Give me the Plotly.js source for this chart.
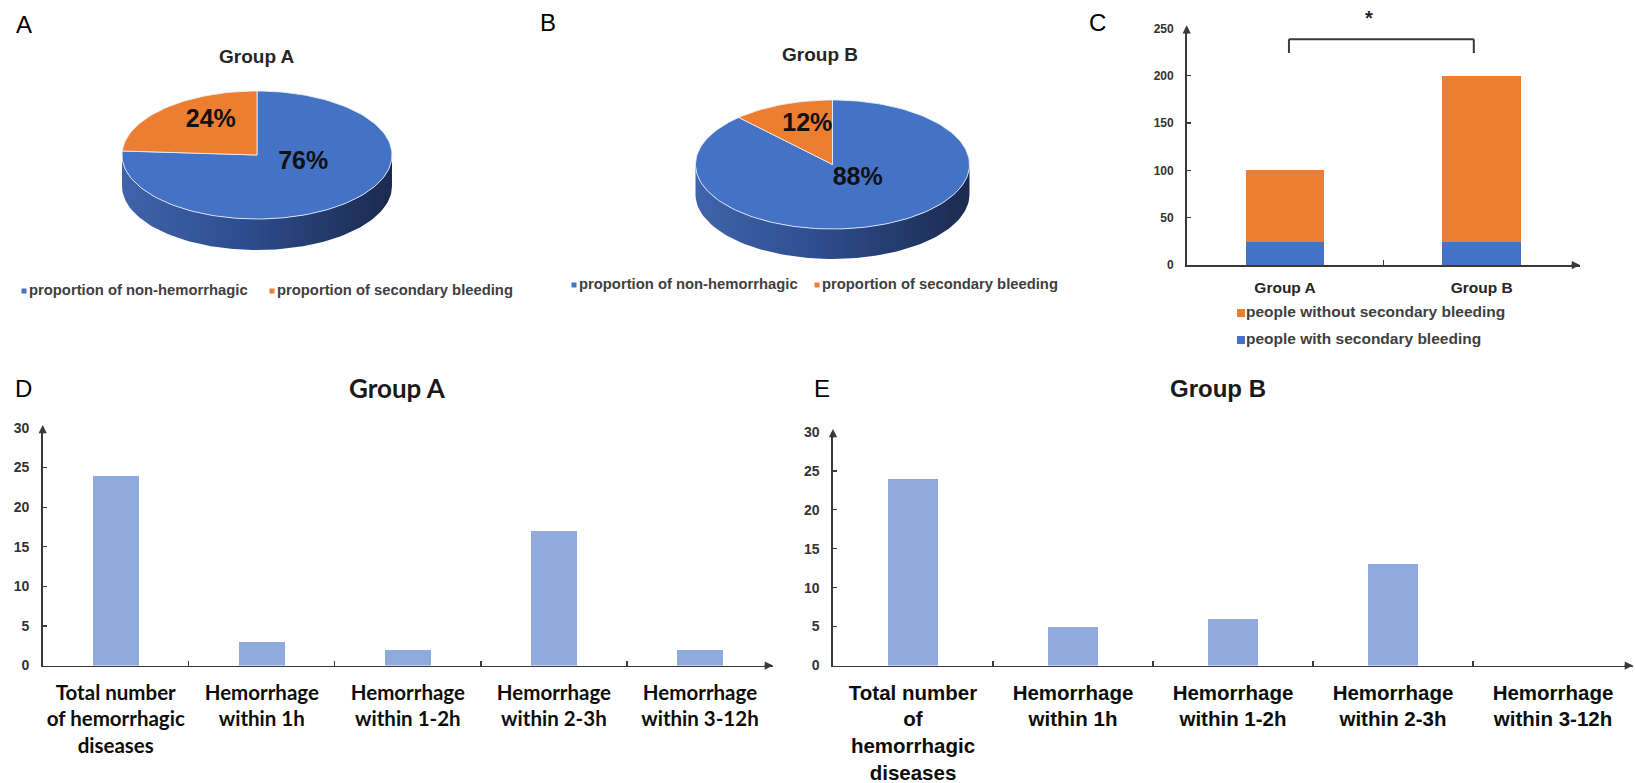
<!DOCTYPE html>
<html><head><meta charset="utf-8">
<script src="https://cdn.plot.ly/plotly-3.0.1.min.js"></script>
<style>html,body{margin:0;padding:0;background:#fff}#chart{width:1635px;height:783px}</style>
</head><body><div id="chart"></div>
<script>
// ---------------- data ----------------
const pieLabels = ['proportion of non-hemorrhagic', 'proportion of secondary bleeding'];
const pieTitles = ['Group A', 'Group B'];
const pieAValues = [76, 24];
const pieBValues = [88, 12];

const groupCategories = ['Group A', 'Group B'];
const seriesNames = ['people without secondary bleeding', 'people with secondary bleeding'];
const withoutBleeding = [76, 176];
const withBleeding = [24, 24];
const yTicksC = [0, 50, 100, 150, 200, 250];
const significanceMark = '*';

const timeTitles = ['Group A', 'Group B'];
const timeCategoriesA = ['Total number<br>of hemorrhagic<br>diseases', 'Hemorrhage<br>within 1h', 'Hemorrhage<br>within 1-2h', 'Hemorrhage<br>within 2-3h', 'Hemorrhage<br>within 3-12h'];
const timeCategoriesB = ['Total number<br>of<br>hemorrhagic<br>diseases', 'Hemorrhage<br>within 1h', 'Hemorrhage<br>within 1-2h', 'Hemorrhage<br>within 2-3h', 'Hemorrhage<br>within 3-12h'];
const groupAHemorrhage = [24, 3, 2, 17, 2];
const groupBHemorrhage = [24, 5, 6, 13, 0];
const yTicksDE = [0, 5, 10, 15, 20, 25, 30];
const panelLetters = ['A', 'B', 'C', 'D', 'E'];

// ---------------- layout helpers ----------------
const W = 1635, H = 783;
const px = x => x / W;
const py = y => 1 - y / H;
const BLUE = '#4472C4', ORANGE = '#ED7D31', LIGHTBLUE = '#8FAADC';
const ARIAL = 'Liberation Sans, Arial, sans-serif';
const CALIBRI = 'Lato, Liberation Sans Narrow, sans-serif';
const AXIS = '#3a3a3a';

const traces = [];
const annotations = [];

// ---------------- 3D-looking pies (A, B) ----------------
const pieGeo = [
  {values: pieAValues, title: pieTitles[0], cx: 257, cy: 155, rx: 135, ry: 64, depth: 31, titleX: 257, titleY: 56, legY: 291, legX: [24, 272]},
  {values: pieBValues, title: pieTitles[1], cx: 832.5, cy: 164.5, rx: 137, ry: 64.5, depth: 30, titleX: 820, titleY: 55, legY: 285, legX: [574, 817]}
];
const sliceColors = [BLUE, ORANGE];

pieGeo.forEach(g => {
  const total = g.values.reduce((a, b) => a + b, 0);
  const N = 90;
  const wx = [], wy = [];
  for (let i = 0; i <= N; i++) { const t = Math.PI + Math.PI * i / N; wx.push(g.cx + g.rx * Math.cos(t)); wy.push(g.cy - g.ry * Math.sin(t)); }
  for (let i = N; i >= 0; i--) { const t = Math.PI + Math.PI * i / N; wx.push(g.cx + g.rx * Math.cos(t)); wy.push(g.cy - g.ry * Math.sin(t) + g.depth); }
  wx.push(wx[0]); wy.push(wy[0]);
  traces.push({type: 'scatter', x: wx, y: wy, mode: 'lines', fill: 'toself',
    line: {width: 0, color: 'rgba(0,0,0,0)'},
    fillgradient: {type: 'horizontal', colorscale: [[0, '#4063ab'], [0.45, '#2e4d8e'], [1, '#1b2a4e']]},
    xaxis: 'x', yaxis: 'y', hoverinfo: 'skip'});
  let ang = 90;
  const lx = [], ly = [], lt = [];
  g.values.forEach((v, k) => {
    const sweep = v / total * 360;
    const a0 = ang, a1 = ang - sweep;
    const xs = [g.cx], ys = [g.cy];
    const n = Math.max(6, Math.ceil(sweep / 2));
    for (let i = 0; i <= n; i++) { const a = (a0 + (a1 - a0) * i / n) * Math.PI / 180; xs.push(g.cx + g.rx * Math.cos(a)); ys.push(g.cy - g.ry * Math.sin(a)); }
    xs.push(g.cx); ys.push(g.cy);
    traces.push({type: 'scatter', x: xs, y: ys, mode: 'lines', fill: 'toself', fillcolor: sliceColors[k],
      line: {color: 'rgba(235,240,250,0.85)', width: 1}, xaxis: 'x', yaxis: 'y', hoverinfo: 'skip'});
    const mid = (a0 + a1) / 2 * Math.PI / 180;
    lx.push(g.cx + 0.5 * g.rx * Math.cos(mid));
    ly.push(g.cy - 0.45 * g.ry * Math.sin(mid) - 0.2 * g.ry);
    lt.push(Math.round(v / total * 100) + '%');
    ang = a1;
  });
  traces.push({type: 'scatter', x: lx, y: ly, mode: 'text', text: lt, textposition: 'middle center',
    textfont: {family: ARIAL, size: 25, color: '#111', weight: 'bold'}, xaxis: 'x', yaxis: 'y', hoverinfo: 'skip'});
  // legend
  traces.push({type: 'scatter', x: g.legX, y: [g.legY, g.legY], mode: 'markers',
    marker: {symbol: 'square', size: 5, color: sliceColors}, xaxis: 'x', yaxis: 'y', hoverinfo: 'skip'});
  traces.push({type: 'scatter', x: g.legX.map(v => v + 5), y: [g.legY, g.legY], mode: 'text', text: pieLabels,
    textposition: 'middle right', textfont: {family: ARIAL, size: 14.8, color: '#404040', weight: 'bold'},
    xaxis: 'x', yaxis: 'y', hoverinfo: 'skip'});
  annotations.push({x: px(g.titleX), y: py(g.titleY), xref: 'paper', yref: 'paper', text: g.title, showarrow: false,
    xanchor: 'center', yanchor: 'middle', font: {family: ARIAL, size: 19, color: '#262626', weight: 'bold'}});
});

// ---------------- C: stacked bars ----------------
traces.push({type: 'bar', x: groupCategories, y: withBleeding, name: seriesNames[1], marker: {color: BLUE}, width: 0.4, xaxis: 'x2', yaxis: 'y2', hoverinfo: 'skip'});
traces.push({type: 'bar', x: groupCategories, y: withoutBleeding, name: seriesNames[0], marker: {color: ORANGE}, width: 0.4, xaxis: 'x2', yaxis: 'y2', hoverinfo: 'skip'});
// legend C
traces.push({type: 'scatter', x: [1241, 1241], y: [313, 340], mode: 'markers', marker: {symbol: 'square', size: 8, color: [ORANGE, BLUE]}, xaxis: 'x', yaxis: 'y', hoverinfo: 'skip'});
traces.push({type: 'scatter', x: [1246, 1246], y: [313, 340], mode: 'text', text: seriesNames, textposition: 'middle right',
  textfont: {family: ARIAL, size: 15.5, color: '#404040', weight: 'bold'}, xaxis: 'x', yaxis: 'y', hoverinfo: 'skip'});

// ---------------- D, E: bars ----------------
traces.push({type: 'bar', x: timeCategoriesA, y: groupAHemorrhage, marker: {color: LIGHTBLUE}, width: 0.315, xaxis: 'x3', yaxis: 'y3', hoverinfo: 'skip'});
traces.push({type: 'bar', x: timeCategoriesB, y: groupBHemorrhage, marker: {color: LIGHTBLUE}, width: 0.31, xaxis: 'x4', yaxis: 'y4', hoverinfo: 'skip'});

// ---------------- axes ----------------
const C = {x0: 1186.7, x1: 1580, y0: 265, y1: 28.3, n: 2};
const D = {x0: 42.7, x1: 773, y0: 665.5, y1: 428};
const E = {x0: 833, x1: 1633, y0: 665.5, y1: 432};

function xAx(p, font, standoff) {
  return {domain: [px(p.x0), px(p.x1)], type: 'category', range: [-0.5, (p.n || 5) - 0.5], showline: true, linecolor: AXIS, linewidth: 1.6,
    ticks: 'inside', tickson: 'boundaries', ticklen: 5, tickcolor: AXIS, tickwidth: 1.3, showgrid: false, zeroline: false,
    tickangle: 0, tickfont: font, ticklabelstandoff: standoff, fixedrange: true};
}
function yAx(p, rng, tv, size, anchor) {
  return {domain: [py(p.y0), py(p.y1)], range: rng, tickvals: tv, showline: true, linecolor: AXIS, linewidth: 1.6,
    ticks: 'inside', ticklen: 4, tickcolor: AXIS, tickwidth: 1.3, showgrid: false, zeroline: false, anchor: anchor,
    tickfont: {family: ARIAL, size: size, color: '#333', weight: 'bold'}, ticklabelstandoff: 9, fixedrange: true};
}

const layout = {
  width: W, height: H, autosize: false, margin: {l: 0, r: 0, t: 0, b: 0, pad: 0},
  paper_bgcolor: '#fff', plot_bgcolor: 'rgba(0,0,0,0)', showlegend: false, hovermode: false, barmode: 'stack',
  xaxis: {domain: [0, 1], range: [0, W], visible: false, fixedrange: true},
  yaxis: {domain: [0, 1], range: [H, 0], visible: false, fixedrange: true},
  xaxis2: Object.assign(xAx(C, {family: ARIAL, size: 15.5, color: '#262626', weight: 'bold'}, 8), {anchor: 'y2'}),
  yaxis2: yAx(C, [0, 250], yTicksC, 12, 'x2'),
  xaxis3: Object.assign(xAx(D, {family: CALIBRI, size: 20.5, color: '#0d0d0d', weight: 'bold'}, 8), {anchor: 'y3'}),
  yaxis3: yAx(D, [0, 30], yTicksDE, 14, 'x3'),
  xaxis4: Object.assign(xAx(E, {family: ARIAL, size: 20.5, color: '#0d0d0d', weight: 'bold'}, 8), {anchor: 'y4'}),
  yaxis4: yAx(E, [0, 30], yTicksDE, 14, 'x4'),
  shapes: [
    {type: 'line', xref: 'x2', yref: 'y2', x0: 0.02, x1: 0.02, y0: 224, y1: 238.5, line: {color: AXIS, width: 2}},
    {type: 'line', xref: 'x2', yref: 'y2', x0: 0.02, x1: 0.96, y0: 238.5, y1: 238.5, line: {color: AXIS, width: 2}},
    {type: 'line', xref: 'x2', yref: 'y2', x0: 0.96, x1: 0.96, y0: 224, y1: 238.5, line: {color: AXIS, width: 2}}
  ],
  annotations: annotations
};

// significance star
annotations.push({x: px(1369), y: py(18), xref: 'paper', yref: 'paper', text: significanceMark, showarrow: false,
  font: {family: ARIAL, size: 20, color: '#262626', weight: 'bold'}, xanchor: 'center', yanchor: 'middle'});

// D/E titles
annotations.push({x: px(397), y: py(388), xref: 'paper', yref: 'paper', text: timeTitles[0], showarrow: false,
  font: {family: CALIBRI, size: 26, color: '#1a1a1a', weight: 'bold'}, xanchor: 'center', yanchor: 'middle'});
annotations.push({x: px(1218), y: py(388), xref: 'paper', yref: 'paper', text: timeTitles[1], showarrow: false,
  font: {family: ARIAL, size: 24, color: '#1a1a1a', weight: 'bold'}, xanchor: 'center', yanchor: 'middle'});

// panel letters
const letterPos = [[24, 25], [548, 22], [1097, 22], [23, 388], [822, 388]];
panelLetters.forEach((t, i) => annotations.push({x: px(letterPos[i][0]), y: py(letterPos[i][1]), xref: 'paper', yref: 'paper',
  text: t, showarrow: false, font: {family: ARIAL, size: 24, color: '#000'}, xanchor: 'center', yanchor: 'middle'}));

// axis arrowheads
[C, D, E].forEach(p => {
  annotations.push({x: px(p.x1), y: py(p.y0), xref: 'paper', yref: 'paper', text: '', showarrow: true, ax: -10, ay: 0,
    axref: 'pixel', ayref: 'pixel', arrowhead: 2, arrowsize: 1.1, arrowwidth: 1.5, arrowcolor: AXIS, standoff: 0});
  annotations.push({x: px(p.x0), y: py(p.y1) + 3 / H, xref: 'paper', yref: 'paper', text: '', showarrow: true, ax: 0, ay: 10,
    axref: 'pixel', ayref: 'pixel', arrowhead: 2, arrowsize: 1.1, arrowwidth: 1.5, arrowcolor: AXIS, standoff: 0});
});

Plotly.newPlot('chart', traces, layout, {displayModeBar: false, staticPlot: true});
</script>
</body></html>
